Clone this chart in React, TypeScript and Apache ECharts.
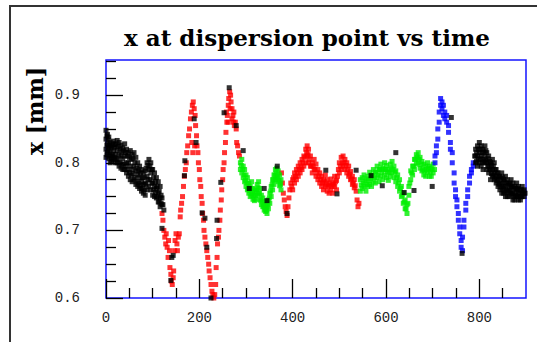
import React, { useEffect, useRef } from "react";
import * as echarts from "echarts";

const titleText = "x at dispersion point vs time";
const yTitle = "x [mm]";

const xMajorTicks = [0, 200, 400, 600, 800];
const xMinorTicks = [50, 100, 150, 250, 300, 350, 450, 500, 550, 650, 700, 750, 850];
const yMajorTicks = [0.6, 0.7, 0.8, 0.9];
const yMinorTicks = [0.625, 0.65, 0.675, 0.725, 0.75, 0.775, 0.825, 0.85, 0.875, 0.925, 0.95];

const blackEarly: number[][] = [
  [0, 0.848], [0, 0.835], [0, 0.82], [0, 0.808],
  [3, 0.842], [3, 0.828], [3, 0.815],
  [6, 0.838], [6, 0.822], [6, 0.806],
  [9, 0.83], [9, 0.815], [9, 0.8],
  [12, 0.825], [12, 0.81], [12, 0.802],
  [16, 0.832], [16, 0.818], [16, 0.805],
  [20, 0.828], [20, 0.812], [20, 0.8],
  [24, 0.833], [24, 0.818], [24, 0.8],
  [28, 0.83], [28, 0.812], [28, 0.795],
  [32, 0.826], [32, 0.81], [32, 0.792],
  [36, 0.822], [36, 0.806], [36, 0.79],
  [40, 0.828], [40, 0.81], [40, 0.79],
  [44, 0.82], [44, 0.8], [44, 0.785],
  [48, 0.815], [48, 0.8], [48, 0.78],
  [52, 0.818], [52, 0.795], [52, 0.775],
  [56, 0.812], [56, 0.79], [56, 0.772],
  [60, 0.815], [60, 0.795], [60, 0.775],
  [64, 0.808], [64, 0.788], [64, 0.768],
  [68, 0.8], [68, 0.782], [68, 0.765],
  [72, 0.795], [72, 0.778], [72, 0.762],
  [76, 0.79], [76, 0.772], [76, 0.758],
  [80, 0.785], [80, 0.768], [80, 0.755],
  [84, 0.788], [84, 0.77], [84, 0.752],
  [88, 0.8], [88, 0.78], [88, 0.76],
  [92, 0.805], [92, 0.79], [92, 0.765],
  [96, 0.8], [96, 0.785], [96, 0.76],
  [100, 0.79], [100, 0.77], [100, 0.752],
  [104, 0.785], [104, 0.765], [104, 0.75],
  [108, 0.778], [108, 0.762], [108, 0.748],
  [112, 0.772], [112, 0.755], [112, 0.742],
  [116, 0.765], [116, 0.748], [116, 0.735],
  [120, 0.748], [120, 0.738], [124, 0.73],
];

const blackEarlyFill: number[][] = [
  [2, 0.84], [2, 0.826], [2, 0.812], [5, 0.834], [5, 0.818], [8, 0.826], [8, 0.81],
  [11, 0.822], [11, 0.807], [14, 0.828], [14, 0.812], [18, 0.823], [18, 0.808],
  [22, 0.826], [22, 0.806], [26, 0.824], [26, 0.805], [30, 0.82], [30, 0.8],
  [34, 0.816], [34, 0.798], [38, 0.818], [38, 0.798], [42, 0.815], [42, 0.795],
  [46, 0.81], [46, 0.79], [50, 0.808], [50, 0.786], [54, 0.805], [54, 0.782],
  [58, 0.806], [58, 0.784], [62, 0.8], [62, 0.778], [66, 0.792], [66, 0.772],
  [70, 0.788], [70, 0.77], [74, 0.785], [74, 0.766], [78, 0.778], [78, 0.762],
  [82, 0.778], [82, 0.76], [86, 0.792], [86, 0.768], [90, 0.796], [90, 0.775],
  [94, 0.795], [94, 0.775], [98, 0.79], [98, 0.77], [102, 0.778], [102, 0.76],
  [106, 0.772], [106, 0.756], [110, 0.765], [110, 0.75], [114, 0.758], [114, 0.742],
  [118, 0.752], [118, 0.74], [122, 0.738],
];

const blackScatter: number[][] = [
  [120, 0.703], [139, 0.626], [141, 0.66], [144, 0.663], [168, 0.781], [169, 0.803],
  [189, 0.865], [193, 0.83], [206, 0.726], [212, 0.718], [216, 0.675], [225, 0.6],
  [237, 0.688], [238, 0.715], [246, 0.771], [253, 0.874], [264, 0.911], [279, 0.855],
  [294, 0.818], [307, 0.762], [339, 0.762], [345, 0.744], [367, 0.795], [388, 0.725],
  [471, 0.789], [495, 0.754], [536, 0.789], [568, 0.781], [592, 0.766], [621, 0.815],
  [639, 0.756], [660, 0.759], [699, 0.765], [740, 0.867], [763, 0.666],
];

const blackLate: number[][] = [
  [792, 0.82], [792, 0.81], [792, 0.8],
  [796, 0.825], [796, 0.81], [796, 0.795],
  [800, 0.83], [800, 0.815], [800, 0.8],
  [804, 0.825], [804, 0.81], [804, 0.795],
  [808, 0.82], [808, 0.805], [808, 0.79],
  [812, 0.825], [812, 0.81], [812, 0.8],
  [816, 0.815], [816, 0.8], [816, 0.79],
  [820, 0.81], [820, 0.795], [820, 0.785],
  [824, 0.8], [824, 0.79], [824, 0.775],
  [828, 0.805], [828, 0.79], [828, 0.78],
  [832, 0.8], [832, 0.785], [832, 0.775],
  [836, 0.79], [836, 0.78], [836, 0.77],
  [840, 0.785], [840, 0.775], [840, 0.765],
  [844, 0.78], [844, 0.77], [844, 0.76],
  [848, 0.785], [848, 0.77], [848, 0.755],
  [852, 0.775], [852, 0.765], [852, 0.755],
  [856, 0.78], [856, 0.765], [856, 0.75],
  [860, 0.775], [860, 0.76], [860, 0.75],
  [864, 0.77], [864, 0.76], [864, 0.75],
  [868, 0.775], [868, 0.765], [868, 0.755],
  [872, 0.77], [872, 0.755], [872, 0.745],
  [876, 0.765], [876, 0.755], [876, 0.745],
  [880, 0.77], [880, 0.76], [880, 0.75],
  [884, 0.765], [884, 0.755], [884, 0.745],
  [888, 0.76], [888, 0.75], [888, 0.745],
  [892, 0.765], [892, 0.755], [892, 0.75],
  [896, 0.76], [896, 0.755], [896, 0.75],
];

const blackLateFill: number[][] = [
  [790, 0.81], [794, 0.815], [794, 0.802], [798, 0.82], [798, 0.805], [802, 0.82],
  [802, 0.806], [806, 0.815], [806, 0.8], [810, 0.816], [810, 0.802], [814, 0.818],
  [814, 0.804], [818, 0.806], [818, 0.795], [822, 0.802], [822, 0.79], [826, 0.797],
  [826, 0.784], [830, 0.795], [830, 0.782], [834, 0.79], [834, 0.777], [838, 0.785],
  [838, 0.773], [842, 0.78], [842, 0.768], [846, 0.777], [846, 0.764], [850, 0.778],
  [850, 0.762], [854, 0.772], [854, 0.758], [858, 0.77], [858, 0.757], [862, 0.767],
  [862, 0.756], [866, 0.768], [866, 0.758], [870, 0.764], [870, 0.752], [874, 0.762],
  [874, 0.75], [878, 0.762], [878, 0.752], [882, 0.762], [882, 0.75], [886, 0.755],
  [890, 0.76], [890, 0.75], [894, 0.758], [898, 0.755],
];

const redFirst: number[][] = [
  [120, 0.725], [122, 0.715], [124, 0.7], [126, 0.69], [128, 0.68], [129, 0.695],
  [131, 0.675], [133, 0.66], [134, 0.685], [136, 0.67], [137, 0.645], [139, 0.635],
  [140, 0.625], [142, 0.62], [144, 0.63], [145, 0.64], [147, 0.67], [148, 0.685],
  [150, 0.695], [152, 0.68], [153, 0.67], [155, 0.69], [157, 0.695], [159, 0.72],
  [160, 0.73], [162, 0.74], [164, 0.75], [166, 0.765], [168, 0.78], [170, 0.79],
  [172, 0.8], [173, 0.815], [175, 0.825], [177, 0.84], [179, 0.85], [181, 0.865],
  [183, 0.875], [185, 0.885], [187, 0.89], [189, 0.88], [191, 0.87], [192, 0.855],
  [184, 0.83], [190, 0.825], [186, 0.815],
  [194, 0.84], [195, 0.825], [197, 0.815], [198, 0.8], [200, 0.79], [201, 0.775],
  [203, 0.765], [204, 0.75], [206, 0.74], [207, 0.725], [209, 0.715], [210, 0.7],
  [212, 0.69], [214, 0.68], [216, 0.67], [218, 0.66], [220, 0.65], [221, 0.64],
  [223, 0.63], [225, 0.62], [227, 0.61], [229, 0.605], [231, 0.6], [233, 0.605],
  [235, 0.62], [236, 0.645], [238, 0.66], [239, 0.68], [241, 0.69], [242, 0.7],
  [244, 0.715], [245, 0.73], [247, 0.745], [248, 0.76], [250, 0.775], [251, 0.79],
  [253, 0.8], [254, 0.815], [256, 0.83], [257, 0.845], [259, 0.86], [260, 0.87],
  [262, 0.885], [263, 0.895], [265, 0.905], [267, 0.9], [268, 0.89], [270, 0.88],
  [272, 0.87], [273, 0.86], [275, 0.855], [277, 0.86], [279, 0.85], [280, 0.83],
  [282, 0.825], [284, 0.815], [286, 0.81],
  [258, 0.875], [262, 0.86], [266, 0.88], [270, 0.865], [274, 0.875],
];

const redSecond: number[][] = [
  [376, 0.785], [378, 0.77], [380, 0.755], [382, 0.745], [384, 0.735], [386, 0.728],
  [388, 0.722], [390, 0.735], [392, 0.748], [394, 0.76], [396, 0.77], [398, 0.765],
  [400, 0.775], [400, 0.76], [404, 0.785], [404, 0.77], [408, 0.79], [408, 0.775],
  [412, 0.795], [412, 0.78], [416, 0.8], [416, 0.785], [420, 0.805], [420, 0.79],
  [424, 0.81], [424, 0.795], [428, 0.82], [428, 0.8], [431, 0.825], [431, 0.81],
  [434, 0.82], [434, 0.8], [438, 0.81], [438, 0.795], [442, 0.8], [442, 0.785],
  [446, 0.805], [446, 0.79], [450, 0.798], [450, 0.78], [454, 0.79], [454, 0.775],
  [458, 0.785], [458, 0.77], [462, 0.78], [462, 0.765], [466, 0.775], [466, 0.76],
  [470, 0.782], [470, 0.765], [474, 0.775], [474, 0.758], [478, 0.77], [478, 0.755],
  [482, 0.776], [482, 0.76], [486, 0.77], [486, 0.755], [490, 0.78], [490, 0.765],
  [494, 0.774], [494, 0.76], [498, 0.79], [500, 0.8], [500, 0.785], [504, 0.808],
  [504, 0.79], [508, 0.81], [508, 0.795], [512, 0.805], [512, 0.79], [516, 0.8],
  [516, 0.785], [520, 0.795], [520, 0.78], [524, 0.787], [524, 0.775], [528, 0.78],
  [528, 0.768], [532, 0.775], [532, 0.763], [536, 0.758], [538, 0.745], [540, 0.735],
  [542, 0.74],
];

const redSecondFill: number[][] = [
  [402, 0.778], [406, 0.78], [410, 0.785], [414, 0.79], [418, 0.793], [422, 0.8],
  [426, 0.808], [430, 0.815], [433, 0.812], [436, 0.805], [440, 0.795], [444, 0.795],
  [448, 0.79], [452, 0.785], [456, 0.78], [460, 0.775], [464, 0.77], [468, 0.772],
  [472, 0.768], [476, 0.765], [480, 0.767], [484, 0.765], [488, 0.768], [492, 0.772],
  [496, 0.78], [502, 0.795], [506, 0.8], [510, 0.8], [514, 0.796], [518, 0.79],
  [522, 0.783], [526, 0.776], [530, 0.77], [534, 0.766],
];

const greenFirst: number[][] = [
  [288, 0.8], [288, 0.79], [291, 0.805], [291, 0.785], [294, 0.795], [294, 0.778],
  [297, 0.79], [297, 0.772], [300, 0.782], [300, 0.765], [303, 0.778], [303, 0.76],
  [306, 0.77], [306, 0.755], [309, 0.765], [309, 0.75], [312, 0.772], [312, 0.752],
  [315, 0.762], [315, 0.746], [318, 0.758], [318, 0.744], [321, 0.76], [321, 0.746],
  [324, 0.768], [324, 0.752], [327, 0.772], [327, 0.755], [330, 0.762], [330, 0.745],
  [333, 0.752], [333, 0.738], [336, 0.748], [336, 0.735], [339, 0.742], [339, 0.73],
  [342, 0.738], [342, 0.728], [345, 0.735], [345, 0.725], [348, 0.745], [348, 0.732],
  [351, 0.755], [351, 0.74], [354, 0.765], [354, 0.75], [357, 0.775], [357, 0.76],
  [360, 0.782], [360, 0.768], [363, 0.79], [363, 0.775], [366, 0.792], [366, 0.778],
  [369, 0.788], [369, 0.772], [372, 0.782], [372, 0.766], [375, 0.775], [375, 0.76],
];

const greenFirstFill: number[][] = [
  [290, 0.796], [293, 0.79], [296, 0.782], [299, 0.774], [302, 0.77], [305, 0.762],
  [308, 0.758], [311, 0.762], [314, 0.755], [317, 0.752], [320, 0.752], [323, 0.76],
  [326, 0.763], [329, 0.755], [332, 0.745], [335, 0.742], [338, 0.736], [341, 0.733],
  [344, 0.73], [347, 0.738], [350, 0.748], [353, 0.758], [356, 0.768], [359, 0.775],
  [362, 0.782], [365, 0.785], [368, 0.78], [371, 0.774], [374, 0.768],
];

const greenSecond: number[][] = [
  [545, 0.775], [545, 0.758], [549, 0.778], [549, 0.762], [553, 0.782], [553, 0.765],
  [557, 0.776], [557, 0.758], [561, 0.78], [561, 0.765], [565, 0.786], [565, 0.768],
  [569, 0.782], [569, 0.765], [573, 0.79], [573, 0.772], [577, 0.786], [577, 0.77],
  [581, 0.795], [581, 0.778], [585, 0.79], [585, 0.772], [589, 0.798], [589, 0.78],
  [593, 0.792], [593, 0.775], [597, 0.8], [597, 0.782], [601, 0.796], [601, 0.778],
  [605, 0.79], [605, 0.774], [609, 0.798], [609, 0.78], [613, 0.802], [613, 0.785],
  [617, 0.795], [617, 0.778], [621, 0.788], [621, 0.772], [625, 0.782], [625, 0.765],
  [629, 0.775], [629, 0.758], [633, 0.765], [633, 0.75], [637, 0.755], [637, 0.74],
  [641, 0.745], [641, 0.732], [645, 0.738], [645, 0.725], [649, 0.752], [649, 0.765],
  [653, 0.775], [653, 0.788], [657, 0.795], [657, 0.782], [661, 0.805], [661, 0.79],
  [665, 0.812], [665, 0.798], [669, 0.815], [669, 0.8], [673, 0.808], [673, 0.792],
  [677, 0.802], [677, 0.788], [681, 0.798], [681, 0.782], [685, 0.795], [685, 0.78],
  [689, 0.8], [689, 0.786], [693, 0.795], [693, 0.78], [697, 0.792], [697, 0.78],
  [701, 0.798], [701, 0.785], [704, 0.79],
];

const greenSecondFill: number[][] = [
  [547, 0.767], [551, 0.77], [555, 0.773], [559, 0.768], [563, 0.773], [567, 0.776],
  [571, 0.78], [575, 0.778], [579, 0.786], [583, 0.782], [587, 0.79], [591, 0.786],
  [595, 0.79], [599, 0.79], [603, 0.786], [607, 0.786], [611, 0.792], [615, 0.79],
  [619, 0.786], [623, 0.778], [627, 0.77], [631, 0.762], [635, 0.752], [639, 0.742],
  [643, 0.732], [647, 0.74], [651, 0.77], [655, 0.785], [659, 0.795], [663, 0.805],
  [667, 0.808], [671, 0.805], [675, 0.797], [679, 0.79], [683, 0.788], [687, 0.79],
  [691, 0.792], [695, 0.787], [699, 0.79],
];

const bluePoints: number[][] = [
  [705, 0.8], [705, 0.81], [708, 0.825], [708, 0.815], [711, 0.835], [711, 0.85],
  [714, 0.86], [714, 0.875], [717, 0.885], [717, 0.895], [720, 0.89], [720, 0.88],
  [723, 0.885], [723, 0.87], [726, 0.875], [726, 0.865], [730, 0.87], [730, 0.86],
  [734, 0.855], [734, 0.845], [738, 0.83], [738, 0.82], [742, 0.815], [742, 0.8],
  [746, 0.785], [746, 0.77], [749, 0.76], [749, 0.75], [752, 0.745], [752, 0.735],
  [755, 0.725], [755, 0.715], [758, 0.705], [758, 0.695], [761, 0.685], [761, 0.675],
  [764, 0.67], [764, 0.69], [767, 0.705], [767, 0.715], [771, 0.73], [771, 0.74],
  [775, 0.75], [775, 0.76], [779, 0.77], [779, 0.78], [783, 0.785], [783, 0.79],
  [787, 0.795], [787, 0.8],
];

const colorSeries = [
  { name: "red", color: "#ff0000", data: [...redFirst, ...redSecond, ...redSecondFill] },
  { name: "green", color: "#00ee00", data: [...greenFirst, ...greenFirstFill, ...greenSecond, ...greenSecondFill] },
  { name: "blue", color: "#0000ff", data: bluePoints },
  {
    name: "black",
    color: "#000000",
    data: [...blackEarly, ...blackEarlyFill, ...blackScatter, ...blackLate, ...blackLateFill],
  },
];

const BORDER = "#1414ff";
const TICK = "#000";
const labelFont = { fontFamily: "Liberation Mono", fontSize: 14, color: "#222" };

export default function App() {
  const ref = useRef<HTMLDivElement>(null);
  useEffect(() => {
    const chart = echarts.init(ref.current!, null, { renderer: "svg" });
    const option: any = {
      animation: false,
      backgroundColor: "#ffffff",
      grid: {
        left: 106,
        top: 60,
        width: 420,
        height: 238,
        show: true,
        borderColor: BORDER,
        borderWidth: 1.5,
        backgroundColor: "transparent",
      },
      xAxis: [
        {
          type: "value", min: 0, max: 900, position: "bottom", z: 3,
          axisLine: { show: false },
          splitLine: { show: false },
          axisTick: { show: true, inside: true, length: 19, customValues: xMajorTicks, lineStyle: { color: TICK, width: 1.3 } },
          axisLabel: { show: true, customValues: xMajorTicks, margin: 13, ...labelFont },
        },
        {
          type: "value", min: 0, max: 900, position: "bottom", z: 3,
          axisLine: { show: false },
          splitLine: { show: false },
          axisTick: { show: true, inside: true, length: 10, customValues: xMinorTicks, lineStyle: { color: TICK, width: 1.3 } },
          axisLabel: { show: false },
        },
      ],
      yAxis: [
        {
          type: "value", min: 0.6, max: 0.952, position: "left", z: 3,
          axisLine: { show: false },
          splitLine: { show: false },
          axisTick: { show: true, inside: true, length: 17, customValues: yMajorTicks, lineStyle: { color: TICK, width: 1.3 } },
          axisLabel: {
            show: true, customValues: yMajorTicks, margin: 26, padding: [7, 0, 0, 0],
            formatter: (v: number) => v.toFixed(1), ...labelFont,
          },
        },
        {
          type: "value", min: 0.6, max: 0.952, position: "left", z: 3,
          axisLine: { show: false },
          splitLine: { show: false },
          axisTick: { show: true, inside: true, length: 10, customValues: yMinorTicks, lineStyle: { color: TICK, width: 1.3 } },
          axisLabel: { show: false },
        },
      ],
      series: colorSeries.map((s) => ({
        type: "scatter",
        name: s.name,
        xAxisIndex: 0,
        yAxisIndex: 0,
        symbol: "rect",
        symbolSize: 5,
        itemStyle: { color: s.color },
        data: s.data,
        z: 4,
      })),
      graphic: [
        {
          type: "rect",
          z: -10,
          shape: { x: 10, y: 6, width: 600, height: 400 },
          style: { fill: "none", stroke: "#333", lineWidth: 2 },
        },
        {
          type: "text",
          x: 307,
          y: 37,
          style: {
            text: titleText,
            fontFamily: "DejaVu Serif",
            fontWeight: "bold",
            fontSize: 23,
            fill: "#000",
            textAlign: "center",
            textVerticalAlign: "middle",
          },
        },
        {
          type: "text",
          x: 35,
          y: 111,
          rotation: Math.PI / 2,
          style: {
            text: yTitle,
            fontFamily: "DejaVu Serif",
            fontWeight: "bold",
            fontSize: 22,
            fill: "#000",
            textAlign: "center",
            textVerticalAlign: "middle",
          },
        },
      ],
    };
    chart.setOption(option);
    return () => chart.dispose();
  }, []);
  return (
    <div
      ref={ref}
      style={{ position: "absolute", left: 0, top: 0, width: 537, height: 342, background: "#fff" }}
    />
  );
}
